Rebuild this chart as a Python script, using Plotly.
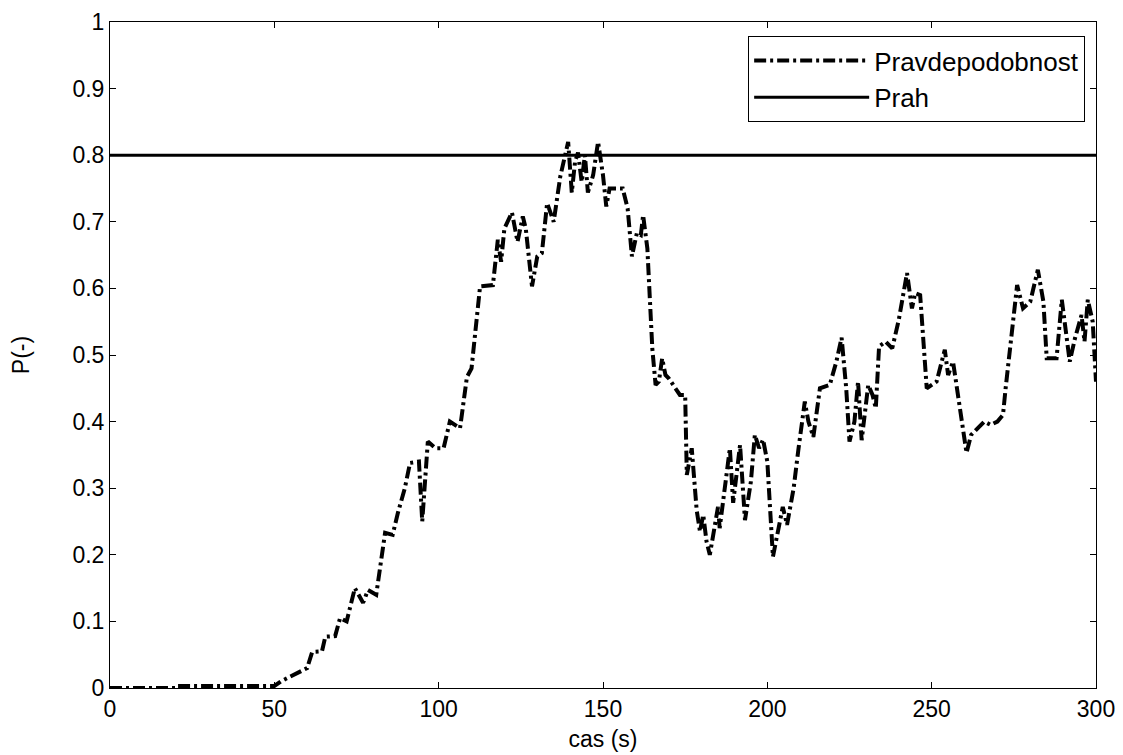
import plotly.graph_objects as go

# time (s)
t = [0, 20, 20.5, 50, 52, 55, 58, 60, 61.5, 64.5, 65.5, 68.5, 70, 72, 74.5, 77, 78.5, 81,
     83.7, 86, 87.6, 89.7, 91.3, 94, 95, 96.7, 99, 101.5, 103.4, 105, 106.5, 108.6, 110,
     112.6, 116.5, 118, 119, 120, 122.3, 124, 125.6, 126.5, 128.4, 130, 131.4, 133, 135,
     137, 138.5, 139.4, 140.5, 141.5, 142.4, 143.5, 144.5, 145.4, 147, 148.5, 150, 151,
     152, 154, 156, 157.5, 158.8, 160.3, 161.5, 162.2, 163.5, 165, 166, 167, 168, 169,
     170, 173.4, 175, 175.5, 177, 178.5, 179.5, 180.5, 181.5, 182.5, 184, 185, 185.5, 187,
     188.6, 189.6, 191.7, 193.2, 195, 196.2, 197.5, 198.7, 200, 201.7, 203, 204.7, 206,
     208, 209.5, 211.4, 212.5, 214, 216, 219, 221, 222.6, 224, 225, 226.5, 227.6, 228.7,
     230.7, 232, 233, 234, 236, 238, 240, 242.5, 244, 245, 246.5, 248.5, 251.5, 254, 255,
     256.5, 258, 260.6, 262, 264, 266, 268, 270, 271.7, 272.5, 276, 277.8, 280, 282.3,
     284, 285, 288, 289.6, 292, 293.6, 295.6, 296.5, 297.5, 299, 300]

# probability P(-)
p = [0.0, 0.0, 0.003, 0.003, 0.01, 0.018, 0.025, 0.03, 0.054, 0.055, 0.077, 0.078, 0.105,
     0.10, 0.15, 0.128, 0.147, 0.14, 0.233, 0.23, 0.263, 0.30, 0.338, 0.34, 0.25, 0.37,
     0.36, 0.36, 0.40, 0.395, 0.39, 0.467, 0.48, 0.603, 0.605, 0.673, 0.64, 0.69, 0.714,
     0.67, 0.708, 0.69, 0.603, 0.648, 0.653, 0.728, 0.70, 0.768, 0.80, 0.82, 0.744, 0.79,
     0.804, 0.76, 0.80, 0.744, 0.77, 0.82, 0.77, 0.723, 0.75, 0.75, 0.75, 0.72, 0.648,
     0.683, 0.68, 0.71, 0.66, 0.51, 0.455, 0.46, 0.495, 0.47, 0.465, 0.44, 0.44, 0.32,
     0.36, 0.267, 0.235, 0.26, 0.22, 0.20, 0.24, 0.272, 0.24, 0.30, 0.36, 0.278, 0.365,
     0.252, 0.31, 0.38, 0.36, 0.373, 0.34, 0.197, 0.23, 0.272, 0.245, 0.30, 0.36, 0.43,
     0.40, 0.377, 0.45, 0.455, 0.49, 0.526, 0.45, 0.37, 0.40, 0.46, 0.372, 0.455, 0.44,
     0.42, 0.513, 0.52, 0.51, 0.553, 0.623, 0.57, 0.593, 0.59, 0.45, 0.46, 0.508, 0.47,
     0.49, 0.44, 0.353, 0.38, 0.39, 0.40, 0.395, 0.40, 0.41, 0.45, 0.605, 0.57, 0.58,
     0.628, 0.58, 0.495, 0.495, 0.583, 0.49, 0.525, 0.56, 0.52, 0.583, 0.55, 0.46]

threshold_t = [0, 300]
threshold_p = [0.8, 0.8]

x_ticks = [0, 50, 100, 150, 200, 250, 300]
y_ticks = [0, 0.1, 0.2, 0.3, 0.4, 0.5, 0.6, 0.7, 0.8, 0.9, 1]

FONT = "Liberation Sans, Arial, sans-serif"

fig = go.Figure()
fig.add_trace(go.Scatter(
    x=t, y=p, mode="lines", name="Pravdepodobnost",
    line=dict(color="black", width=4, dash="12px,4px,3px,4px"),
))
fig.add_trace(go.Scatter(
    x=threshold_t, y=threshold_p, mode="lines", name="Prah",
    line=dict(color="black", width=3),
))

axis_common = dict(
    showline=True, linecolor="black", linewidth=1, mirror="ticks",
    ticks="inside", ticklen=6, tickcolor="black", tickwidth=1,
    showgrid=False, zeroline=False, automargin=False,
    tickfont=dict(family=FONT, size=23, color="black"),
)

fig.update_xaxes(range=[0, 300], tickvals=x_ticks,
                 title=dict(text="cas (s)", font=dict(family=FONT, size=23, color="black"), standoff=10),
                 **axis_common)
fig.update_yaxes(range=[0, 1], tickvals=y_ticks,
                 title=dict(text="P(-)", font=dict(family=FONT, size=23, color="black"), standoff=36),
                 **axis_common)

fig.update_layout(
    width=1123, height=755,
    margin=dict(l=110, r=27, t=22, b=67),
    paper_bgcolor="white", plot_bgcolor="white",
    showlegend=True,
    legend=dict(
        x=0.989, y=0.979, xanchor="right", yanchor="top",
        bgcolor="white", bordercolor="black", borderwidth=1,
        font=dict(family=FONT, size=26, color="black"),
        itemwidth=115, tracegroupgap=0,
    ),
)

fig.write_html("out.html")
